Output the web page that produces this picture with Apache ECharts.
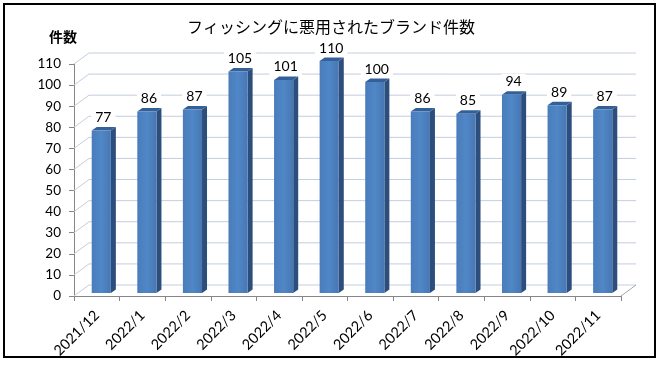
<!DOCTYPE html>
<html><head><meta charset="utf-8">
<script src="https://cdn.jsdelivr.net/npm/echarts@6/dist/echarts.min.js"></script>
<style>html,body{margin:0;padding:0;background:#fff}#c{width:662px;height:368px}</style>
</head><body><div id="c"></div>
<script>
var titleText = 'フィッシングに悪用されたブランド件数';
var yName = '件数';
var categories = ['2021/12','2022/1','2022/2','2022/3','2022/4','2022/5','2022/6','2022/7','2022/8','2022/9','2022/10','2022/11'];
var counts = [77, 86, 87, 105, 101, 110, 100, 86, 85, 94, 89, 87];
var yTicks = [0, 10, 20, 30, 40, 50, 60, 70, 80, 90, 100, 110];

var DX = 15, DY = -11;       // back wall offset
var BX = 4.5, BY = -3;       // bar depth position
var SX = 5, SY = -3.5;       // bar side depth

var chart = echarts.init(document.getElementById('c'));
chart.setOption({
  animation: false,
  backgroundColor: '#fff',
  title: {
    text: titleText, left: 'center', top: 14,
    textStyle: {fontFamily: 'Noto Sans CJK JP', fontWeight: 'normal', fontSize: 16, color: '#000'}
  },
  graphic: [
    {type: 'rect', shape: {x: 4, y: 4, width: 651, height: 353}, style: {fill: 'none', stroke: '#000', lineWidth: 2}, z: 100},
    {type: 'text', left: 49, top: 30, style: {text: yName, font: 'bold 14px "Noto Sans CJK JP"', fill: '#000'}}
  ],
  grid: {left: 74, right: 41, top: 64, bottom: 72},
  xAxis: {
    type: 'category', data: categories,
    axisLine: {lineStyle: {color: '#868686'}},
    axisTick: {show: true, length: 5, lineStyle: {color: '#868686'}},
    axisLabel: {rotate: 45, fontFamily: 'Lato', fontSize: 14.5, color: '#000', margin: 17}
  },
  yAxis: {
    type: 'value', min: 0, max: 110, interval: 10,
    axisLine: {show: true, lineStyle: {color: '#868686'}},
    axisTick: {show: true, length: 5, lineStyle: {color: '#868686'}},
    axisLabel: {fontFamily: 'Lato', fontSize: 13.5, color: '#000', margin: 13},
    splitLine: {show: false}
  },
  series: [
    {
      type: 'custom', silent: true, z: 1,
      data: yTicks.map(function (t) { return [0, t]; }),
      renderItem: function (params, api) {
        var cs = params.coordSys;
        var y = api.coord([0, api.value(1)])[1];
        var x0 = cs.x, x1 = cs.x + cs.width;
        var lc = '#C3CEDF';
        var ch = [
          {type: 'line', shape: {x1: x0, y1: y, x2: x0 + DX, y2: y + DY}, style: {stroke: lc, lineWidth: 1}},
          {type: 'line', shape: {x1: x0 + DX, y1: y + DY, x2: x1 + DX, y2: y + DY}, style: {stroke: lc, lineWidth: 1}}
        ];
        if (api.value(1) === 0) {
          ch.push({type: 'line', shape: {x1: x1, y1: y, x2: x1 + DX, y2: y + DY}, style: {stroke: '#A6A6A6', lineWidth: 1}});
        }
        return {type: 'group', children: ch};
      }
    },
    {
      type: 'custom', z: 2,
      data: counts.map(function (v, i) { return [i, v]; }),
      renderItem: function (params, api) {
        var i = api.value(0), v = api.value(1);
        var p = api.coord([i, v]);
        var p0 = api.coord([i, 0]);
        var band = api.size([1, 0])[0];
        var w = band * 0.42;
        var x = p[0] - w / 2 + BX;
        var top = p[1] + BY, bot = p0[1] + BY;
        return {type: 'group', children: [
          {type: 'polygon', shape: {points: [[x + w, top], [x + w + SX, top + SY], [x + w + SX, bot + SY], [x + w, bot]]},
           style: {fill: '#2C4E7C'}},
          {type: 'polygon', shape: {points: [[x, top], [x + w, top], [x + w + SX, top + SY], [x + SX, top + SY]]},
           style: {fill: '#34609A'}},
          {type: 'rect', shape: {x: x, y: top, width: w, height: bot - top},
           style: {fill: new echarts.graphic.LinearGradient(0, 0, 1, 0, [{offset: 0, color: '#4A7CBA'}, {offset: 0.5, color: '#5087C6'}, {offset: 1, color: '#4777B3'}])}},
          {type: 'text', x: x + w / 2 + 2, y: top - 13,
           style: {text: String(v), font: '14px Lato', fill: '#000', align: 'center', verticalAlign: 'middle',
                   backgroundColor: '#fff', padding: [1, 4]}}
        ]};
      }
    }
  ]
});
</script></body></html>
